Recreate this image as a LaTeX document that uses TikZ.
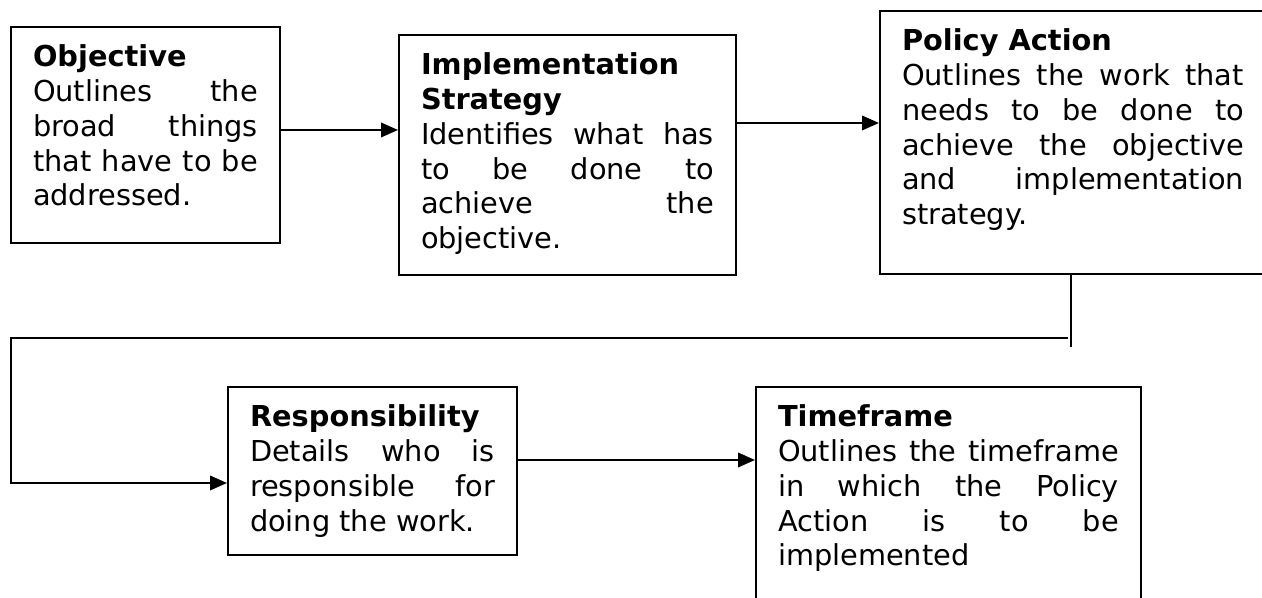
\documentclass[tikz,border=0pt]{standalone}
\usepackage{fontspec}
\setmainfont{DejaVu Sans}
\usepackage{tikz}
\usetikzlibrary{arrows.meta, positioning, calc}
\hyphenpenalty=10000
\tolerance=10000
\hbadness=10000

\begin{document}
\begin{tikzpicture}[x=0.02cm, y=-0.02cm,
  font=\fontsize{16.4pt}{19.92pt}\selectfont,
  box/.style={draw, line width=1.15pt, anchor=north west, inner xsep=0.44cm, inner ysep=0.29cm},
  wire/.style={line width=1.15pt, draw=black},
  arr/.style={wire, -{Triangle[length=0.34cm, width=0.29cm]}}]
  \useasboundingbox (0,0) rectangle (1262,598);
  \clip (0,0) rectangle (1262,598);
  % ---- top row: objective, strategy, policy action
  \node[box] (obj) at (10,26) {\parbox[t][3.74cm][t]{4.50cm}{\strut\textbf{Objective}\\
    Outlines the\linebreak broad things\linebreak that have to be\linebreak addressed.}};
  \node[box] (impl) at (398,34) {\parbox[t][4.22cm][t]{5.86cm}{\strut\textbf{Implementation\\ Strategy}\\
    Identifies what has\linebreak to be done to\linebreak achieve the\linebreak objective.}};
  \node[box] (pol) at (879,10) {\parbox[t][4.68cm][t]{6.84cm}{\strut\textbf{Policy Action}\\
    Outlines the work that\linebreak needs to be done to\linebreak achieve the objective\linebreak and implementation\linebreak strategy.}};
  \draw[arr] ([yshift=0.1cm]obj.east) -- ([yshift=0.1cm]obj.east -| impl.west);
  \draw[arr] ([yshift=0.64cm]impl.east) -- ([yshift=0.64cm]impl.east -| pol.west);
  % ---- bottom row: responsibility and timeframe
  \node[box] (resp) at (227,386) {\parbox[t][2.78cm][t]{4.90cm}{\strut\textbf{Responsibility}\\
    Details who is\linebreak responsible for\linebreak doing the work.}};
  \node[box] (time) at (755,386) {\parbox[t][4.22cm][t]{6.82cm}{\strut\textbf{Timeframe}\\
    Outlines the timeframe\linebreak in which the Policy\linebreak Action is to be\linebreak implemented}};
  \draw[arr] ([yshift=0.22cm]resp.east) -- ([yshift=0.22cm]resp.east -| time.west);
  % the return line from the policy action back round to the second row
  \coordinate (drop) at (1071,347);
  \coordinate (turn) at (1068,338);
  \coordinate (edge) at (11,338);
  \draw[wire] (pol.south -| drop) -- (drop);
  \draw[arr] (turn) -- (edge) |- ([yshift=-0.24cm]resp.west);
\end{tikzpicture}
\end{document}
